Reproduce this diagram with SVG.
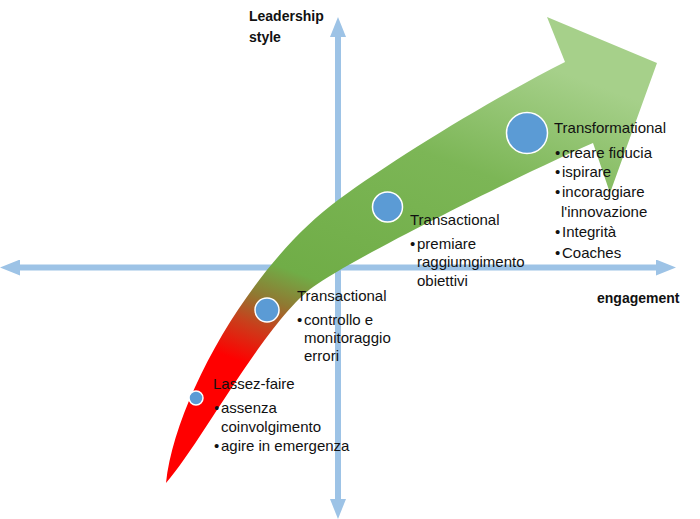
<svg xmlns="http://www.w3.org/2000/svg" width="700" height="519" viewBox="0 0 700 519">
  <style>
    .axis { stroke: #9dc3e6; stroke-width: 6; fill: none; }
    .dot { fill: #5b9bd5; stroke: #ffffff; stroke-width: 1.5; }
    .t { font-family: "Liberation Sans", Arial, sans-serif; font-size: 15px; fill: #111111; }
    .b { font-family: "Liberation Sans", Arial, sans-serif; font-size: 14px; font-weight: bold; fill: #111111; }
  </style>
  <defs>
    <marker id="head" markerUnits="userSpaceOnUse" markerWidth="20" markerHeight="16" viewBox="0 0 20 16" refX="0" refY="8" orient="auto-start-reverse">
      <path d="M0,0 L20,8 L0,16 Z" fill="#9dc3e6"/>
    </marker>
    <linearGradient id="grow" gradientUnits="userSpaceOnUse" x1="250" y1="480" x2="420" y2="20">
      <stop offset="0" stop-color="#ff0000"/>
      <stop offset="0.22" stop-color="#ff0000"/>
      <stop offset="0.30" stop-color="#c8401c"/>
      <stop offset="0.36" stop-color="#8f7a32"/>
      <stop offset="0.43" stop-color="#70ad47"/>
      <stop offset="0.75" stop-color="#7cb656"/>
      <stop offset="1" stop-color="#a6d08a"/>
    </linearGradient>
  </defs>

  <g id="connectors">
    <line class="axis" x1="338" y1="37" x2="338" y2="499" marker-start="url(#head)" marker-end="url(#head)"/>
    <line class="axis" x1="20" y1="267.5" x2="656" y2="267.5" marker-start="url(#head)" marker-end="url(#head)"/>
  </g>

  <g id="growth-arrow">
    <path fill="url(#grow)" d="M166,483 C175,400 250,265 338,200 C395,158 490,100 565,62 L547,17 L657,63 L610,193 L593,143 C520,175 353,258 313,287 C265,322 200,445 166,483 Z"/>
  </g>

  <g id="axis-labels">
    <text class="b" x="249" y="21">Leadership</text>
    <text class="b" x="249" y="42">style</text>
    <text class="b" x="597" y="303">engagement</text>
  </g>

  <g id="node-laissez-faire">
    <circle class="dot" cx="196" cy="398" r="7"/>
    <text class="t" x="213" y="389">Lassez-faire</text>
    <text class="t" x="214" y="413">•<tspan x="221">assenza</tspan></text>
    <text class="t" x="221" y="432">coinvolgimento</text>
    <text class="t" x="214" y="451">•<tspan x="221">agire in emergenza</tspan></text>
  </g>

  <g id="node-transactional-1">
    <circle class="dot" cx="267" cy="310" r="12"/>
    <text class="t" x="297" y="301">Transactional</text>
    <text class="t" x="297" y="325">•<tspan x="304">controllo e</tspan></text>
    <text class="t" x="304" y="343">monitoraggio</text>
    <text class="t" x="304" y="361">errori</text>
  </g>

  <g id="node-transactional-2">
    <circle class="dot" cx="387.5" cy="207" r="15"/>
    <text class="t" x="410" y="225">Transactional</text>
    <text class="t" x="410" y="249">•<tspan x="417">premiare</tspan></text>
    <text class="t" x="417" y="267">raggiumgimento</text>
    <text class="t" x="417" y="286">obiettivi</text>
  </g>

  <g id="node-transformational">
    <circle class="dot" cx="527" cy="133" r="20.5"/>
    <text class="t" x="554" y="133">Transformational</text>
    <text class="t" x="555" y="158">•<tspan x="562">creare fiducia</tspan></text>
    <text class="t" x="555" y="177">•<tspan x="562">ispirare</tspan></text>
    <text class="t" x="555" y="197">•<tspan x="562">incoraggiare</tspan></text>
    <text class="t" x="561" y="217">l'innovazione</text>
    <text class="t" x="555" y="237">•<tspan x="562">Integrità</tspan></text>
    <text class="t" x="555" y="258">•<tspan x="562">Coaches</tspan></text>
  </g>
</svg>
